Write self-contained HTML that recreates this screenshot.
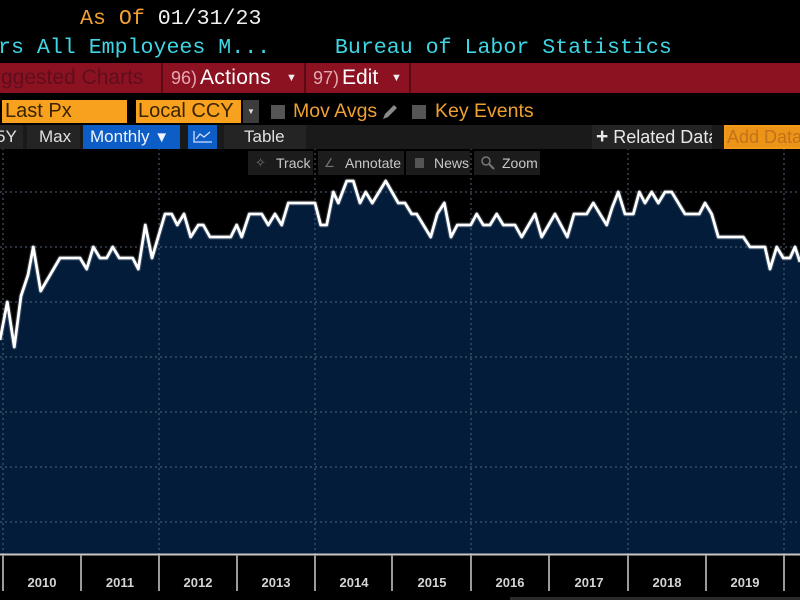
<!DOCTYPE html>
<html><head><meta charset="utf-8">
<style>
html,body{margin:0;padding:0;background:#000;}
body{width:800px;height:600px;position:relative;overflow:hidden;font-family:"Liberation Sans",Arial,sans-serif;}
.a{position:absolute;white-space:nowrap;}
.mono{font-family:"Liberation Mono",monospace;font-size:21.6px;white-space:pre;}
</style></head><body>
<svg class="a" style="left:0;top:0" width="800" height="600" viewBox="0 0 800 600">
  <rect x="0" y="0" width="800" height="600" fill="#000"/>
  <polygon fill="#031c3a" points="0,340 7.3,302 14.3,347 21,296 28,275 33.3,247 40.7,291 60,258 80,258 86.7,269 93.3,247 100,258 106.7,258 112.7,247 119.3,258 132.7,258 138.3,269 145.3,225 152,258 165,214 171.7,214 177.3,225 184,214 190.7,237 198.3,225 203.3,225 210,237 230.7,237 236.7,225 241.7,237 249.3,214 261.7,214 268.3,225 275,214 281.7,225 288.3,203 315,203 320.7,225 326.7,225 333.3,192 338.3,203 346.7,181 353.3,181 360,203 365.7,192 372.3,203 385.7,181 398.3,203 405,203 411.7,214 416.7,214 430.7,237 437.3,214 444.3,203 451,237 457.3,225 470.7,225 476.7,214 483.3,225 490,225 496.7,214 503.3,225 515,225 521.7,237 535,214 541.7,237 555,214 567.3,237 574,214 586.7,214 593.3,203 600,214 606.7,225 612,208 618.3,192 625,214 633.3,214 639.3,192 645,203 651.7,192 658.3,203 665,192 671.7,192 685,214 699.3,214 705,203 711.7,214 718.3,237 743.3,237 750,247 765,247 770,269 776.7,247 783.3,258 790,258 795,247 800,262 800,554 0,554"/>
  <g stroke="#56657a" stroke-width="1" stroke-dasharray="2,3" fill="none">
    <line x1="0" y1="192" x2="800" y2="192"/>
    <line x1="0" y1="247" x2="800" y2="247"/>
    <line x1="0" y1="302" x2="800" y2="302"/>
    <line x1="0" y1="357" x2="800" y2="357"/>
    <line x1="0" y1="412" x2="800" y2="412"/>
    <line x1="0" y1="467" x2="800" y2="467"/>
    <line x1="0" y1="522" x2="800" y2="522"/>
    <line x1="3" y1="148" x2="3" y2="554"/>
    <line x1="159" y1="148" x2="159" y2="554"/>
    <line x1="315" y1="148" x2="315" y2="554"/>
    <line x1="471" y1="148" x2="471" y2="554"/>
    <line x1="628" y1="148" x2="628" y2="554"/>
    <line x1="784" y1="148" x2="784" y2="554"/>
  </g>
  <polyline fill="none" stroke="#8a97a8" stroke-opacity="0.35" stroke-width="5" stroke-linejoin="round" points="0,340 7.3,302 14.3,347 21,296 28,275 33.3,247 40.7,291 60,258 80,258 86.7,269 93.3,247 100,258 106.7,258 112.7,247 119.3,258 132.7,258 138.3,269 145.3,225 152,258 165,214 171.7,214 177.3,225 184,214 190.7,237 198.3,225 203.3,225 210,237 230.7,237 236.7,225 241.7,237 249.3,214 261.7,214 268.3,225 275,214 281.7,225 288.3,203 315,203 320.7,225 326.7,225 333.3,192 338.3,203 346.7,181 353.3,181 360,203 365.7,192 372.3,203 385.7,181 398.3,203 405,203 411.7,214 416.7,214 430.7,237 437.3,214 444.3,203 451,237 457.3,225 470.7,225 476.7,214 483.3,225 490,225 496.7,214 503.3,225 515,225 521.7,237 535,214 541.7,237 555,214 567.3,237 574,214 586.7,214 593.3,203 600,214 606.7,225 612,208 618.3,192 625,214 633.3,214 639.3,192 645,203 651.7,192 658.3,203 665,192 671.7,192 685,214 699.3,214 705,203 711.7,214 718.3,237 743.3,237 750,247 765,247 770,269 776.7,247 783.3,258 790,258 795,247 800,262"/>
  <polyline fill="none" stroke="#ffffff" stroke-width="2.8" stroke-linejoin="round" points="0,340 7.3,302 14.3,347 21,296 28,275 33.3,247 40.7,291 60,258 80,258 86.7,269 93.3,247 100,258 106.7,258 112.7,247 119.3,258 132.7,258 138.3,269 145.3,225 152,258 165,214 171.7,214 177.3,225 184,214 190.7,237 198.3,225 203.3,225 210,237 230.7,237 236.7,225 241.7,237 249.3,214 261.7,214 268.3,225 275,214 281.7,225 288.3,203 315,203 320.7,225 326.7,225 333.3,192 338.3,203 346.7,181 353.3,181 360,203 365.7,192 372.3,203 385.7,181 398.3,203 405,203 411.7,214 416.7,214 430.7,237 437.3,214 444.3,203 451,237 457.3,225 470.7,225 476.7,214 483.3,225 490,225 496.7,214 503.3,225 515,225 521.7,237 535,214 541.7,237 555,214 567.3,237 574,214 586.7,214 593.3,203 600,214 606.7,225 612,208 618.3,192 625,214 633.3,214 639.3,192 645,203 651.7,192 658.3,203 665,192 671.7,192 685,214 699.3,214 705,203 711.7,214 718.3,237 743.3,237 750,247 765,247 770,269 776.7,247 783.3,258 790,258 795,247 800,262"/>
  <rect x="0" y="555" width="800" height="45" fill="#000"/>
  <line x1="0" y1="554.5" x2="800" y2="554.5" stroke="#c8c8c8" stroke-width="2"/>
  <g stroke="#9a9a9a" stroke-width="2">
    <line x1="3" y1="555" x2="3" y2="591"/>
    <line x1="81" y1="555" x2="81" y2="591"/>
    <line x1="159" y1="555" x2="159" y2="591"/>
    <line x1="237" y1="555" x2="237" y2="591"/>
    <line x1="315" y1="555" x2="315" y2="591"/>
    <line x1="392" y1="555" x2="392" y2="591"/>
    <line x1="471" y1="555" x2="471" y2="591"/>
    <line x1="549" y1="555" x2="549" y2="591"/>
    <line x1="628" y1="555" x2="628" y2="591"/>
    <line x1="706" y1="555" x2="706" y2="591"/>
    <line x1="784" y1="555" x2="784" y2="591"/>
  </g>
  <rect x="510" y="597" width="290" height="3" fill="#2a2a2a"/>
  <g fill="#d4d4d4" font-family="Liberation Sans, Arial, sans-serif" font-size="13" font-weight="bold" text-anchor="middle">
    <text x="42" y="587">2010</text>
    <text x="120" y="587">2011</text>
    <text x="198" y="587">2012</text>
    <text x="276" y="587">2013</text>
    <text x="354" y="587">2014</text>
    <text x="432" y="587">2015</text>
    <text x="510" y="587">2016</text>
    <text x="589" y="587">2017</text>
    <text x="667" y="587">2018</text>
    <text x="745" y="587">2019</text>
  </g>
</svg>

<!-- Row 1 -->
<div class="a mono" style="left:80px;top:6px;line-height:26px;color:#f2a033;">As Of <span style="color:#f0f0f0">01/31/23</span></div>
<!-- Row 2 -->
<div class="a mono" style="left:-2px;top:35px;line-height:26px;color:#3ed6e4;">rs All Employees M...     Bureau of Labor Statistics</div>

<!-- Row 3 red bar -->
<div class="a" style="left:0;top:63px;width:800px;height:30px;background:#8c1222;"></div>
<div class="a" style="left:161px;top:63px;width:2px;height:30px;background:#5a0a14;"></div>
<div class="a" style="left:304px;top:63px;width:2px;height:30px;background:#5a0a14;"></div>
<div class="a" style="left:409px;top:63px;width:2px;height:30px;background:#5a0a14;"></div>
<div class="a" style="left:1px;top:64px;line-height:28px;font-size:21px;color:#5e0e1c;">ggested Charts</div>
<div class="a" style="left:171px;top:64px;line-height:28px;font-size:18px;color:#e6a8b0;">96)</div>
<div class="a" style="left:200px;top:64px;line-height:28px;font-size:21px;color:#fff;letter-spacing:0.3px;">Actions</div>
<div class="a" style="left:286px;top:64px;line-height:28px;font-size:11px;color:#eee;">&#9660;</div>
<div class="a" style="left:313px;top:64px;line-height:28px;font-size:18px;color:#e6a8b0;">97)</div>
<div class="a" style="left:342px;top:64px;line-height:28px;font-size:21px;color:#fff;">Edit</div>
<div class="a" style="left:391px;top:64px;line-height:28px;font-size:11px;color:#eee;">&#9660;</div>

<!-- Row 4 -->
<div class="a" style="left:2px;top:100px;width:125px;height:23px;background:#f7a11e;"></div>
<div class="a" style="left:5px;top:99px;line-height:25px;font-size:20px;color:#3a2400;">Last Px</div>
<div class="a" style="left:136px;top:100px;width:105px;height:23px;background:#f7a11e;"></div>
<div class="a" style="left:138px;top:99px;line-height:25px;font-size:20px;color:#3a2400;">Local CCY</div>
<div class="a" style="left:243px;top:100px;width:16px;height:23px;background:#3c3c3c;"></div>
<div class="a" style="left:247px;top:100px;line-height:23px;font-size:8px;color:#ddd;">&#9660;</div>
<div class="a" style="left:271px;top:105px;width:14px;height:14px;background:#555;"></div>
<div class="a" style="left:293px;top:99px;line-height:25px;font-size:19.5px;color:#f0a030;">Mov Avgs</div>
<svg class="a" style="left:380px;top:102px" width="20" height="20" viewBox="0 0 20 20"><polygon points="3,17 5,12 14,3 17,6 8,15" fill="#8a8a8a"/></svg>
<div class="a" style="left:412px;top:105px;width:14px;height:14px;background:#555;"></div>
<div class="a" style="left:435px;top:99px;line-height:25px;font-size:19.5px;color:#f0a030;">Key Events</div>

<!-- Row 5 -->
<div class="a" style="left:0;top:125px;width:800px;height:24px;background:#1a1a1a;"></div>
<div class="a" style="left:0;top:125px;width:23px;height:24px;background:#242424;"></div>
<div class="a" style="left:-4px;top:125px;line-height:24px;font-size:17px;color:#e0e0e0;">5Y</div>
<div class="a" style="left:27px;top:125px;width:53px;height:24px;background:#242424;"></div>
<div class="a" style="left:39px;top:125px;line-height:24px;font-size:17px;color:#e0e0e0;">Max</div>
<div class="a" style="left:83px;top:125px;width:97px;height:24px;background:#0d5dc6;"></div>
<div class="a" style="left:90px;top:125px;line-height:24px;font-size:17px;color:#f0f4ff;">Monthly <span style="font-size:15px">&#9660;</span></div>
<div class="a" style="left:188px;top:125px;width:29px;height:24px;background:#0d5dc6;"></div>
<svg class="a" style="left:192px;top:129px" width="22" height="16" viewBox="0 0 22 16"><polyline points="2,2 2,13 20,13" fill="none" stroke="#cfe0ff" stroke-width="1.3"/><polyline points="4,10 8,5 12,8 18,3" fill="none" stroke="#cfe0ff" stroke-width="1.3"/></svg>
<div class="a" style="left:224px;top:125px;width:82px;height:24px;background:#242424;"></div>
<div class="a" style="left:244px;top:125px;line-height:24px;font-size:17px;color:#e0e0e0;">Table</div>
<div class="a" style="left:592px;top:125px;width:120px;height:24px;background:#242424;overflow:hidden;">
  <div class="a" style="left:4px;top:0;line-height:24px;font-size:18px;color:#e8e8e8;"><b style="font-size:21px">+</b> Related Data</div>
</div>
<div class="a" style="left:724px;top:125px;width:76px;height:24px;background:#f29a1c;overflow:hidden;">
  <div class="a" style="left:2px;top:2px;width:80px;height:20px;background:#ec9418;"></div>
  <div class="a" style="left:3px;top:0;line-height:24px;font-size:18px;color:#c2721a;">Add Data</div>
</div>

<!-- Row 6 track toolbar -->
<div class="a" style="left:248px;top:151px;width:65px;height:24px;background:#1c1c1c;"></div>
<div class="a" style="left:318px;top:151px;width:86px;height:24px;background:#1c1c1c;"></div>
<div class="a" style="left:406px;top:151px;width:64px;height:24px;background:#1c1c1c;"></div>
<div class="a" style="left:474px;top:151px;width:66px;height:24px;background:#1c1c1c;"></div>
<div class="a" style="left:255px;top:151px;line-height:24px;font-size:13px;color:#777;">&#10023;</div>
<div class="a" style="left:276px;top:151px;line-height:24px;font-size:14px;color:#c8c8c8;">Track</div>
<div class="a" style="left:324px;top:151px;line-height:24px;font-size:12px;color:#777;">&#8736;</div>
<div class="a" style="left:345px;top:151px;line-height:24px;font-size:14px;color:#c8c8c8;">Annotate</div>
<div class="a" style="left:415px;top:158px;width:9px;height:10px;background:#555;"></div>
<div class="a" style="left:434px;top:151px;line-height:24px;font-size:14px;color:#c8c8c8;">News</div>
<svg class="a" style="left:480px;top:155px" width="16" height="16" viewBox="0 0 16 16"><circle cx="6" cy="6" r="4" fill="none" stroke="#777" stroke-width="1.5"/><line x1="9" y1="9" x2="14" y2="14" stroke="#777" stroke-width="2"/></svg>
<div class="a" style="left:502px;top:151px;line-height:24px;font-size:14px;color:#c8c8c8;">Zoom</div>
</body></html>
